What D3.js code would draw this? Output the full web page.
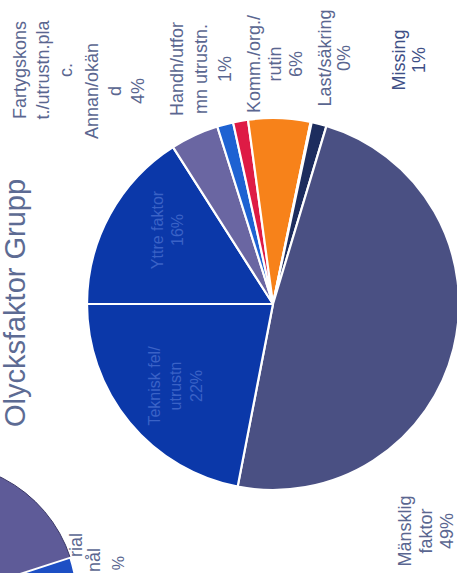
<!DOCTYPE html>
<html><head><meta charset="utf-8">
<script src="https://cdn.jsdelivr.net/npm/d3@7"></script>
<style>
html,body{margin:0;padding:0;background:#fff;}
svg{display:block;font-family:"Liberation Sans",Arial,sans-serif;}
</style></head>
<body>
<svg id="c" width="457" height="573"></svg>
<script>
// Data (order = clockwise from original 12 o'clock)
const categories = ["Yttre faktor","Annan/okänd","Fartygskons t./utrustn.plac.","Handh/utformn utrustn.","Komm./org./rutin","Last/säkring","Missing","Mänsklig faktor","Teknisk fel/utrustn"];
const values = [16, 4.2, 1.4, 1.3, 5.4, 0.1, 1.3, 48.5, 22];
const pctLabels = ["16%","4%","","1%","6%","0%","1%","49%","22%"];
const colors = ["#0b38a9","#6a66a2","#1e62d2","#de1b45","#f7821a","#1d2d5e","#1d2d5e","#4a5083","#0b38a9"];
const title = "Olycksfaktor Grupp";
// visible fragments of the neighbouring chart's labels
const neighbourLabels = ["rial","nål","%"];

const svg = d3.select("#c");
const cx = 273, cy = 304, R = 186;

// the whole chart is rotated 90° counter-clockwise in the scan
const pie = d3.pie().sort(null).value(d => d)
  .startAngle(-Math.PI/2).endAngle(3*Math.PI/2);
const arc = d3.arc().innerRadius(0).outerRadius(R);
const arcs = pie(values);

// neighbouring chart peeking in at bottom-left
const nb = svg.append("g").attr("transform","translate(-60,600)");
const nbArc = d3.arc().innerRadius(0).outerRadius(137);
nb.append("path").attr("d", nbArc({startAngle:-0.3,endAngle:72*Math.PI/180}))
  .attr("fill","#5e5b98").attr("stroke","#3a3866").attr("stroke-width",1);
nb.append("path").attr("d", nbArc({startAngle:72*Math.PI/180,endAngle:130*Math.PI/180}))
  .attr("fill","#1d4fc4").attr("stroke","#fff").attr("stroke-width",2);

const g = svg.append("g").attr("transform",`translate(${cx},${cy})`);
g.selectAll("path.s").data(arcs).join("path").attr("class","s")
  .attr("d", arc)
  .attr("fill",(d,i)=>colors[i])
  .attr("stroke","#fff").attr("stroke-width",2.2).attr("stroke-linejoin","round");

// helper: rotated multi-line text (reads bottom-to-top)
function rtext(x, y, lines, opts){
  const o = Object.assign({size:18, color:"#5a6690", gap:23, anchor:"middle"}, opts||{});
  const t = svg.append("text")
    .attr("transform",`translate(${x},${y}) rotate(-90)`)
    .attr("text-anchor",o.anchor)
    .attr("font-size",o.size).attr("fill",o.color);
  lines.forEach((l,i)=>{
    t.append("tspan").attr("x",0).attr("y",i*o.gap).text(l);
  });
  return t;
}

// title
rtext(25, 303, [title], {size:29, color:"#5d6b93"});

// outside labels (positions laid out like the scan)
const labelLayout = [
  null,
  {x:98, y:91, split:["Annan/okän","d"], gap:23},
  {x:26, y:70, split:["Fartygskons","t./utrustn.pla","c."], gap:23},
  {x:183, y:69, split:["Handh/utfor","mn utrustn."], gap:24},
  {x:260, y:64, split:["Komm./org./","rutin"], gap:21},
  {x:331, y:58, split:["Last/säkring"], gap:19},
  {x:405, y:60, split:["Missing"], gap:20, color:"#3e4f86"},
  {x:411, y:531, split:["Mänsklig","faktor"], gap:21},
  null
];
labelLayout.forEach((L,i)=>{
  if(!L) return;
  const lines = L.split.slice();
  if(pctLabels[i]) lines.push(pctLabels[i]);
  rtext(L.x, L.y, lines, {gap:L.gap, color:L.color||"#5a6690"});
});

// faint labels inside the blue slices
rtext(163, 230, ["Yttre faktor", pctLabels[0]], {size:16, gap:20, color:"#3a62c6"});
rtext(160, 386, ["Teknisk fel/","utrustn", pctLabels[8]], {size:16, gap:21, color:"#3a62c6"});

// labels of the neighbouring chart (only fragments are inside the frame)
rtext(82, 533, [neighbourLabels[0]], {size:18, anchor:"end", color:"#5a6690"});
rtext(100, 548, [neighbourLabels[1]], {size:18, anchor:"end", color:"#5a6690"});
rtext(124, 556, [neighbourLabels[2]], {size:16, anchor:"end", color:"#5a6690"});
</script>
</body></html>
